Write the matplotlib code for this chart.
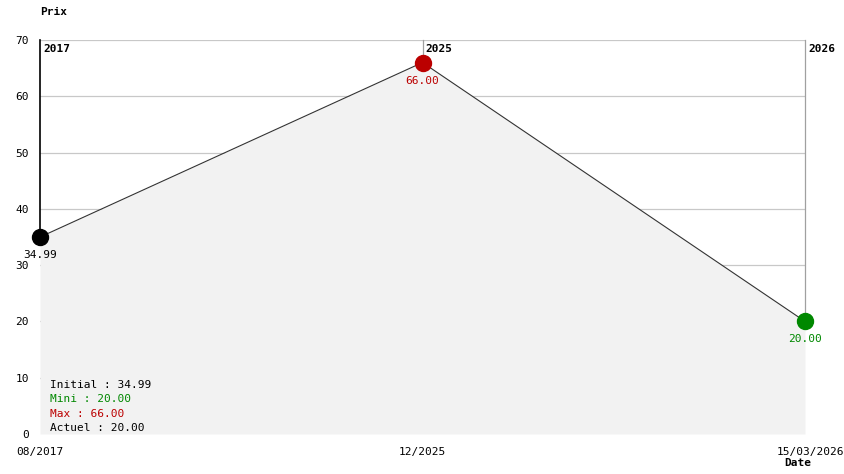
import matplotlib
matplotlib.use("Agg")
import matplotlib.pyplot as plt
import matplotlib.transforms as mtransforms

# data
dates = ["08/2017", "12/2025", "15/03/2026"]
years = ["2017", "2025", "2026"]
prices = [34.99, 66.00, 20.00]
point_colors = ["#000000", "#bb0000", "#008800"]
yticks = [0, 10, 20, 30, 40, 50, 60, 70]
summary = [("Initial : 34.99", "#000000"), ("Mini : 20.00", "#008800"),
           ("Max : 66.00", "#bb0000"), ("Actuel : 20.00", "#000000")]

W, H = 844, 474
fig = plt.figure(figsize=(W / 100, H / 100), dpi=100)
ax = fig.add_axes([40 / W, 40 / H, 765 / W, 394 / H])
mono = "DejaVu Sans Mono"
fs = 8
ymax = 70

xs = list(range(len(prices)))
ax.set_xlim(0, len(prices) - 1)
ax.set_ylim(0, ymax)
for s in ax.spines.values():
    s.set_visible(False)

# grid + year separators (separators stop at the point, the area hides the rest)
for v in yticks[1:]:
    ax.axhline(v, color="#c8c8c8", lw=0.9, zorder=1)
for i, x in enumerate(xs):
    ax.axvline(x, ymin=prices[i] / ymax, ymax=1,
               color="#000000" if i == 0 else "#a0a0a0", lw=1.2 if i == 0 else 0.9,
               zorder=1, clip_on=False)
    ax.text(x, 68.4, years[i], fontsize=fs, fontweight="bold", family=mono,
            ha="left", va="center", zorder=5, clip_on=False,
            transform=ax.transData + mtransforms.ScaledTranslation(3 / 100, 0, fig.dpi_scale_trans))

# area + line
ax.fill_between(xs, prices, 0, color="#f2f2f2", lw=0, zorder=2)
ax.plot(xs, prices, color="#333333", lw=0.8, zorder=3)
for x, p, c in zip(xs, prices, point_colors):
    ax.plot(x, p, "o", ms=11.5, color=c, mec=c, zorder=4, clip_on=False)
    ax.annotate(f"{p:.2f}", (x, p), xytext=(0, -13), textcoords="offset points",
                ha="center", va="center", fontsize=fs, family=mono, color=c, zorder=5)

# axes labels
ax.set_yticks(yticks)
ax.set_yticklabels([str(v) for v in yticks], family=mono, fontsize=fs)
ax.tick_params(axis="y", length=0, pad=8)
ax.set_xticks([])
for x, d in zip(xs, dates):
    ha = "center"
    off = 0
    if x == xs[-1]:
        ha, off = "left", -28
    ax.text(x, 0, d, fontsize=fs, family=mono, ha=ha, va="center", clip_on=False,
            transform=ax.transData + mtransforms.ScaledTranslation(off / 100, -18 / 100, fig.dpi_scale_trans))

fig.text(40 / W, 1 - 12 / H, "Prix", fontsize=fs, fontweight="bold", family=mono, ha="left", va="center")
fig.text(784 / W, 1 - 463 / H, "Date", fontsize=fs, fontweight="bold", family=mono, ha="left", va="center")

# summary box
for i, (t, c) in enumerate(summary):
    fig.text(50 / W, 1 - (385 + i * 14.3) / H, t, fontsize=fs, family=mono, color=c,
             ha="left", va="center")

fig.savefig("out.png", dpi=100)
